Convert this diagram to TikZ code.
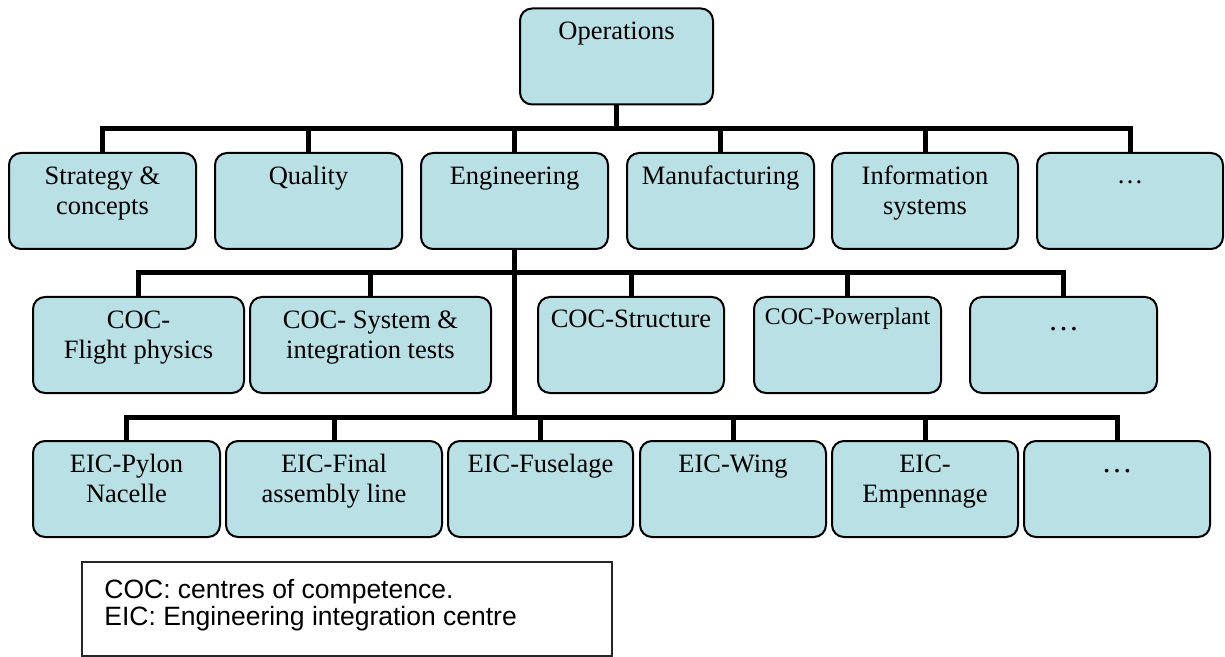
\documentclass[tikz,border=0pt]{standalone}
\usepackage{fontspec}
\setmainfont{Liberation Serif}
\newfontfamily\legfont{Liberation Sans}
\definecolor{boxfill}{RGB}{185,224,228}
\tikzset{
  box/.style={draw=black, line width=1pt, fill=boxfill, rounded corners=6pt, inner sep=0pt,
              minimum height=48pt},
  w187/.style={minimum width=93.5pt},
  lab/.style={anchor=north, inner sep=0pt, align=center, font=\fontsize{13.25}{15}\selectfont},
  labsmall/.style={anchor=north, inner sep=0pt, align=center, font=\fontsize{11.9}{14}\selectfont},
  labdots/.style={anchor=north, inner sep=0pt, align=center, font=\fontsize{15.5}{17}\selectfont},
  bus/.style={line width=2.5pt, line join=miter, draw=black},
  legendbox/.style={draw=black!85, line width=0.75pt, inner sep=0pt},
  legtext/.style={anchor=north west, inner sep=0pt, align=left, font=\legfont\fontsize{13.25}{13.5}\selectfont}
}
\begin{document}
\begin{tikzpicture}[x=0.5pt, y=-0.5pt]
\useasboundingbox (0,0) rectangle (1225,657);

% top
\node[box, minimum width=96.5pt, label={[lab]north:\rule{0pt}{16pt}Operations}] (ops) at (616.5,56.5) {};

% row 1
\node[box, w187, label={[lab]north:\rule{0pt}{16pt}Strategy \&\\concepts}] (strat) at (102.5,201) {};
\node[box, w187, label={[lab]north:\rule{0pt}{16pt}Quality}] (qual) at (308.5,201) {};
\node[box, w187, label={[lab]north:\rule{0pt}{16pt}Engineering}] (eng) at (514.5,201) {};
\node[box, w187, label={[lab]north:\rule{0pt}{16pt}Manufacturing}] (manu) at (720.5,201) {};
\node[box, minimum width=93pt, label={[lab]north:\rule{0pt}{16pt}Information\\systems}] (info) at (925,201) {};
\node[box, minimum width=93pt, label={[lab]north:\rule{0pt}{15.5pt}…}] (dotsA) at (1130,201) {};

% row 2
\node[box, minimum width=105.5pt, label={[lab]north:\rule{0pt}{16pt}COC-\\Flight physics}] (fp) at (138.5,345) {};
\node[box, minimum width=120.5pt, label={[lab]north:\rule{0pt}{16pt}COC- System \&\\integration tests}] (sys) at (370.5,345) {};
\node[box, minimum width=93pt, label={[lab]north:\rule{0pt}{15.5pt}COC-Structure}] (struct) at (631,345) {};
\node[box, w187, label={[labsmall]north:\rule{0pt}{14pt}COC-Powerplant}] (power) at (847.5,345) {};
\node[box, w187, label={[labdots]north:\rule{0pt}{17pt}…}] (dotsB) at (1063.5,345) {};

% row 3
\node[box, w187, label={[lab]north:\rule{0pt}{16pt}EIC-Pylon\\Nacelle}] (pylon) at (126.5,489) {};
\node[box, minimum width=108pt, label={[lab]north:\rule{0pt}{16pt}EIC-Final\\assembly line}] (final) at (334,489) {};
\node[box, minimum width=92.5pt, label={[lab]north:\rule{0pt}{16pt}EIC-Fuselage}] (fus) at (540.5,489) {};
\node[box, minimum width=93pt, label={[lab]north:\rule{0pt}{16pt}EIC-Wing}] (wing) at (733,489) {};
\node[box, minimum width=93pt, label={[lab]north:\rule{0pt}{16pt}EIC-\\Empennage}] (emp) at (925,489) {};
\node[box, minimum width=93pt, label={[labdots]north:\rule{0pt}{16pt}…}] (dotsC) at (1117,489) {};

% bus coordinates
\coordinate (b1) at (616.5,129);
\coordinate (b2) at (514.5,273);
\coordinate (b3) at (514.5,417);

% connectors level 1
\draw[bus] (ops.south) -- (b1);
\draw[bus] (strat.north) -- (strat.north |- b1) -- (dotsA.north |- b1) -- (dotsA.north);
\foreach \n in {qual,eng,manu,info} \draw[bus] (\n.north |- b1) -- (\n.north);

% engineering trunk
\draw[bus] (eng.south) -- (b3);

% level 2
\draw[bus] (fp.north) -- (fp.north |- b2) -- (dotsB.north |- b2) -- (dotsB.north);
\foreach \n in {sys,struct,power} \draw[bus] (\n.north |- b2) -- (\n.north);

% level 3
\draw[bus] (pylon.north) -- (pylon.north |- b3) -- (dotsC.north |- b3) -- (dotsC.north);
\foreach \n in {final,fus,wing,emp} \draw[bus] (\n.north |- b3) -- (\n.north);

% legend
\node[legendbox, minimum width=265pt, minimum height=47pt] (legend) at (347,609) {};
\node[legtext] (legtxt) at (104,562) {\rule{0pt}{18pt}COC: centres of competence.\\EIC: Engineering integration centre};
\end{tikzpicture}
\end{document}
